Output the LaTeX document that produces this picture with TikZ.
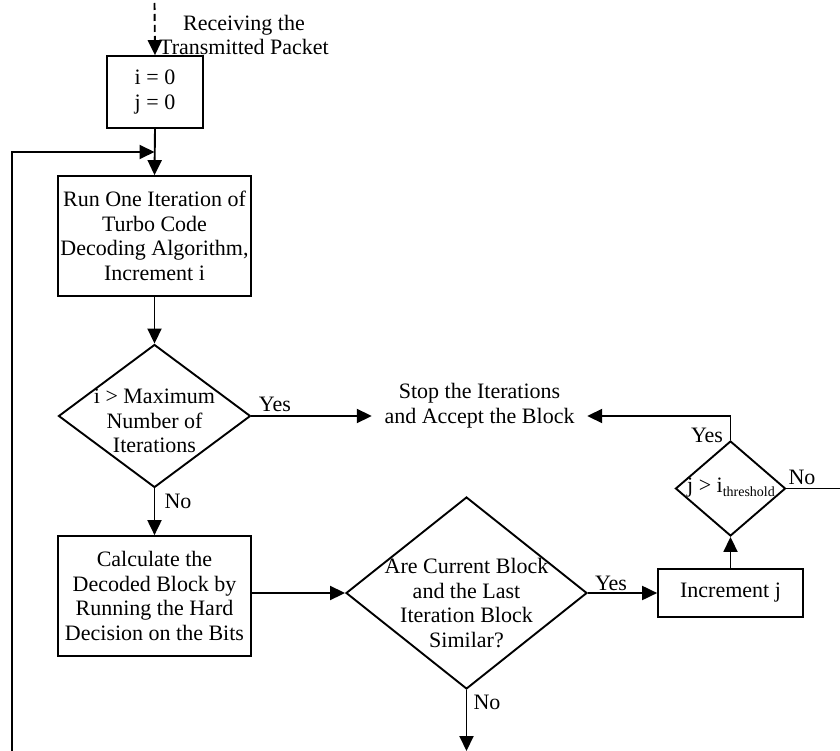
\documentclass[tikz,border=0pt]{standalone}
\usepackage{fontspec}
\setmainfont{Liberation Serif}
\usetikzlibrary{shapes.geometric,arrows.meta}

\tikzset{
  every node/.style={font=\fontsize{22}{24.5}\selectfont},
  flow/.style={line width=1.9pt, line join=miter},
  arr/.style={flow, -{Triangle[length=15pt,width=14pt]}},
  procbox/.style={draw, line width=1.7pt, rectangle, inner sep=0pt, align=center},
  decision/.style={draw, line width=1.9pt, diamond, inner sep=0pt},
  txt/.style={inner sep=0pt, align=center},
  lbl/.style={inner sep=0pt}
}

\begin{document}
\begin{tikzpicture}[x=1pt,y=-1pt]
  \useasboundingbox (0,0) rectangle (840,751);

  % entry
  \coordinate (entry) at (154.5,3);
  \node[txt] (recv) at (244,35) {Receiving the\\Transmitted Packet};

  % initialisation
  \node[procbox, minimum width=96pt, minimum height=72pt] (init) at (155,92) {i = 0\\j = 0};

  % decoding iteration
  \node[procbox, minimum width=193pt, minimum height=120pt] (run) at (154.5,236)
    {Run One Iteration of\\Turbo Code\\Decoding Algorithm,\\Increment i};

  % maximum number of iterations test
  \node[decision, minimum width=192pt, minimum height=143pt] (d1) at (154.5,416) {};
  \node[txt] (d1t) at (154.5,421) {i > Maximum\\Number of\\Iterations};

  % hard decision
  \node[procbox, minimum width=193pt, minimum height=120pt] (calc) at (154.5,596)
    {Calculate the\\Decoded Block by\\Running the Hard\\Decision on the Bits};

  % similarity test
  \node[decision, minimum width=241pt, minimum height=192pt] (d2) at (466.5,593) {};
  \node[txt] (d2t) at (466.5,603) {Are Current Block\\and the Last\\Iteration Block\\Similar?};

  % counter
  \node[procbox, minimum width=145pt, minimum height=48pt] (inc) at (730.5,593) {Increment j};

  % threshold test
  \node[decision, minimum width=110pt, minimum height=95pt] (d3) at (730.5,488.5) {};
  \node[txt] (d3t) at (731,488) {j > i{\fontsize{14}{14}\selectfont\raisebox{-4pt}{threshold}}};

  % stop
  \node[txt, minimum width=215pt] (stop) at (479.5,405.5) {Stop the Iterations\\and Accept the Block};

  % connectors
  \coordinate (merge) at (154.5,152);
  \coordinate (loop) at (12,751);
  \coordinate (exitno) at (466.5,751);
  \coordinate (exitd3) at (840,488.5);

  \draw[arr, dash pattern=on 7pt off 4pt] (entry) -- (init.north);
  \draw[arr] (init.south) -- (run.north);
  \draw[arr] (loop) |- (merge);
  \draw[arr] (run.south) -- (d1.north);
  \draw[arr] (d1.east) -- (d1.east -| stop.west);
  \draw[arr] (d1.south) -- (calc.north);
  \draw[arr] (calc.east |- d2.west) -- (d2.west);
  \draw[arr] (d2.east) -- (inc.west);
  \draw[arr] (inc.north) -- (d3.south);
  \draw[arr] (d3.north) |- (stop.east |- d1.east);
  \draw[flow] (d3.east) -- (exitd3);
  \draw[arr] (d2.south) -- (exitno);

  % branch labels
  \node[lbl] (l1yes) at (275,404) {Yes};
  \node[lbl] (l1no) at (178,501) {No};
  \node[lbl] (l2yes) at (611,583) {Yes};
  \node[lbl] (l2no) at (487,702) {No};
  \node[lbl] (l3yes) at (707,435) {Yes};
  \node[lbl] (l3no) at (802,477) {No};
\end{tikzpicture}
\end{document}
